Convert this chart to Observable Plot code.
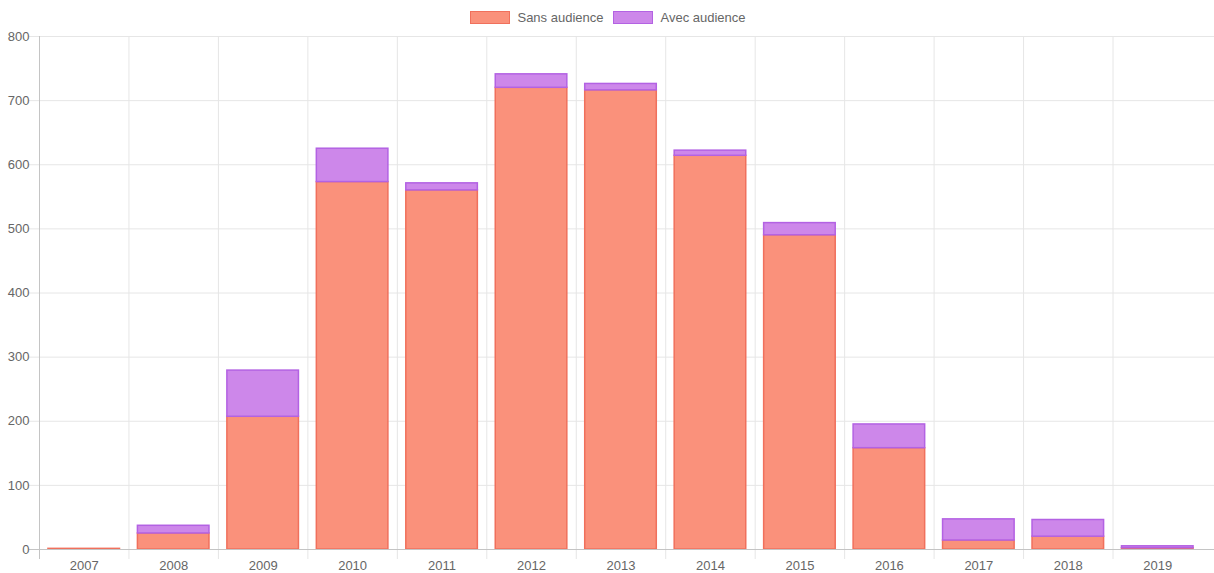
<!DOCTYPE html>
<html><head><meta charset="utf-8">
<script src="https://cdn.jsdelivr.net/npm/d3@7"></script>
<script src="https://cdn.jsdelivr.net/npm/@observablehq/plot@0.6"></script>
<style>
body{margin:0;background:#fff;font-family:"Liberation Sans",Arial,sans-serif;}
#legend{height:28px;display:flex;justify-content:center;align-items:center;font-size:13px;color:#666;padding-top:6px;box-sizing:border-box;padding-left:2px}
.item{display:flex;align-items:center;margin:0 5px;}
.sw{width:38px;height:11px;display:inline-block;margin-right:7px;}
</style></head><body>
<div id="legend"></div><div id="chart"></div>
<script>
const years = [2007,2008,2009,2010,2011,2012,2013,2014,2015,2016,2017,2018,2019];
const sansAudience = [1,25,207,573,560,720,716,614,490,158,14,20,2];
const avecAudience = [0,12,72,52,11,21,10,8,19,37,33,26,3];
const seriesNames = ["Sans audience","Avec audience"];
const fills = ["#fa917b","#cd87ea"];
const strokes = ["#f0705c","#b362e3"];
const yTicks = [0,100,200,300,400,500,600,700,800];

// legend
const leg = document.getElementById("legend");
seriesNames.forEach((n,i)=>{
  const it = document.createElement("span"); it.className="item";
  const sw = document.createElement("span"); sw.className="sw";
  sw.style.background = fills[i]; sw.style.border = "1.5px solid " + strokes[i];
  it.appendChild(sw);
  it.appendChild(document.createTextNode(n));
  leg.appendChild(it);
});

const sansRows = years.map((y,i)=>({year:y, y1:0, y2:sansAudience[i]}));
const avecRows = years.map((y,i)=>({year:y, y1:sansAudience[i], y2:sansAudience[i]+avecAudience[i]}));
const boundaries = years.map(y=>y-0.5);

const chart = Plot.plot({
  width: 1214,
  height: 545,
  marginTop: 8,
  marginBottom: 24,
  marginLeft: 39,
  marginRight: 12,
  style: {fontSize: "13px", fontFamily: "'Liberation Sans', Arial, sans-serif", background: "#fff"},
  x: {domain: [years[0]-0.5, years[years.length-1]+0.5], label: null},
  y: {domain: [0, 800], label: null},
  marks: [
    Plot.ruleY(yTicks, {stroke: "#e6e6e6", insetLeft: -10, insetRight: -12}),
    Plot.ruleX(boundaries.slice(1), {stroke: "#e6e6e6", insetBottom: -10}),
    Plot.rectY(sansRows, {x1: d=>d.year-0.4, x2: d=>d.year+0.4, y1: "y1", y2: "y2", fill: fills[0], stroke: strokes[0], strokeWidth: 1.5}),
    Plot.rectY(avecRows, {x1: d=>d.year-0.4, x2: d=>d.year+0.4, y1: "y1", y2: "y2", fill: fills[1], stroke: strokes[1], strokeWidth: 1.5}),
    Plot.ruleX([boundaries[0]], {stroke: "#c4c4c4", insetBottom: -10}),
    Plot.ruleY([0], {stroke: "#c4c4c4", insetLeft: -10, insetRight: -12}),
    Plot.axisY({ticks: yTicks, tickSize: 0, tickPadding: 10, fill: "#666", tickFormat: d=>String(d)}),
    Plot.axisX({ticks: years, tickSize: 0, tickPadding: 11, fill: "#666", tickFormat: d=>String(d)})
  ]
});
document.getElementById("chart").appendChild(chart);
</script>
</body></html>
